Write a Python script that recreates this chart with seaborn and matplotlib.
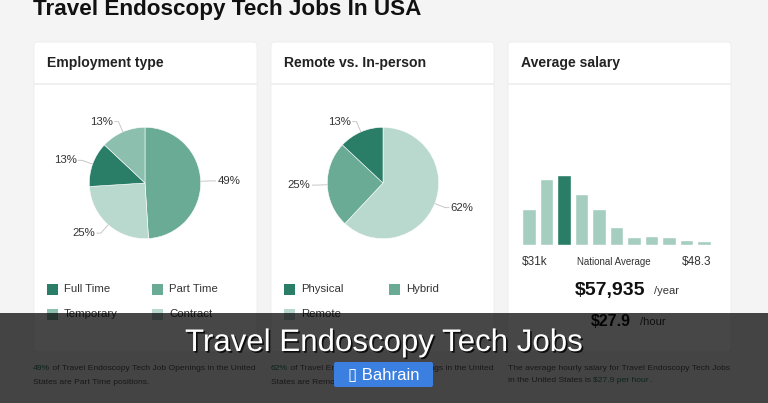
import matplotlib
matplotlib.use("Agg")
import matplotlib.pyplot as plt
import seaborn as sns
import numpy as np
from matplotlib.patches import Rectangle, FancyBboxPatch
import matplotlib.patheffects as pe

# ---------------- data ----------------
title = "Travel Endoscopy Tech Jobs In USA"
emp_labels = ["Full Time", "Part Time", "Temporary", "Contract"]
emp_values = [13, 49, 13, 25]
emp_pie_order = ["Part Time", "Contract", "Full Time", "Temporary"]

loc_labels = ["Physical", "Hybrid", "Remote"]
loc_values = [13, 25, 62]
loc_pie_order = ["Remote", "Hybrid", "Physical"]

salary_bins = ["b1", "b2", "b3", "b4", "b5", "b6", "b7", "b8", "b9", "b10", "b11"]
salary_counts = [36, 66, 70, 51, 36, 18, 8, 9, 8, 5, 4]
highlight_bin = "b3"
salary_low = "$31k"
salary_high = "$48.3"
salary_year = "$57,935"
salary_hour = "$27.9"

# ---------------- style ----------------
sns.set_theme(style="white")
plt.rcParams["font.family"] = ["Liberation Sans", "DejaVu Sans"]

W, H = 768, 403
fig = plt.figure(figsize=(W / 100, H / 100), dpi=100)
fig.patch.set_facecolor("#f4f4f4")

DARK = "#2a7d67"
MED = "#6aab96"
TEMP = "#8cbfae"
LIGHT = "#b9d9cf"
BARC = "#a5cec0"
TXT = "#222222"

emp_colors = {"Full Time": DARK, "Part Time": MED, "Temporary": TEMP, "Contract": LIGHT}
loc_colors = {"Physical": DARK, "Hybrid": MED, "Remote": LIGHT}


def px_axes(left, top, w, h, z=1):
    return fig.add_axes([left / W, 1 - (top + h) / H, w / W, h / H], zorder=z)


# background axes in pixel coordinates
bg = px_axes(0, 0, W, H, z=0)
bg.set_xlim(0, W)
bg.set_ylim(H, 0)
bg.axis("off")

bg.text(33, 15.5, title, fontsize=16.2, weight="bold", color="#111111", va="baseline")

cards = [(34, "Employment type"), (271, "Remote vs. In-person"), (508, "Average salary")]
for x0, head in cards:
    bg.add_patch(FancyBboxPatch((x0, 42), 223, 310, boxstyle="round,pad=0,rounding_size=3",
                                facecolor="white", edgecolor="#ececec", lw=0.6))
    bg.plot([x0, x0 + 223], [84, 84], color="#eeeeee", lw=1.2)
    bg.text(x0 + 13, 63, head, fontsize=10.1, weight="bold", color=TXT, va="center")


def draw_pie(cx, cy, r, order, labels, values, colors):
    ax = px_axes(cx - 100, cy - 100, 200, 200, z=2)
    vals = [values[labels.index(k)] for k in order]
    cols = [colors[k] for k in order]
    wedges, _ = ax.pie(vals, colors=cols, startangle=90, counterclock=False,
                       wedgeprops=dict(edgecolor="white", linewidth=0.4))
    lim = 100 / r
    ax.set_xlim(-lim, lim)
    ax.set_ylim(-lim, lim)
    ax.set_aspect("equal")
    ax.axis("off")
    for w, v in zip(wedges, vals):
        th = np.deg2rad((w.theta1 + w.theta2) / 2)
        c, s = np.cos(th), np.sin(th)
        side = 1 if c >= 0 else -1
        x1, y1 = 1.0 * c, 1.0 * s
        x2, y2 = 1.2 * c, 1.2 * s
        x3 = x2 + side * 0.07
        ax.plot([x1, x2, x3], [y1, y2, y2], color="#c8c8c8", lw=0.7, clip_on=False)
        ax.text(x3 + side * 0.03, y2, f"{v}%", fontsize=8.2, color="#333333",
                ha="left" if side > 0 else "right", va="center", clip_on=False)
    return ax


draw_pie(145, 183, 55.7, emp_pie_order, emp_labels, emp_values, emp_colors)
draw_pie(383, 183, 55.7, loc_pie_order, loc_labels, loc_values, loc_colors)


def legend(items, colors, xs, ys):
    for i, lab in enumerate(items):
        x = xs[i % 2]
        y = ys[i // 2]
        bg.add_patch(Rectangle((x, y - 5.5), 11, 11, facecolor=colors[lab], edgecolor="none"))
        bg.text(x + 17, y, lab, fontsize=8.2, color="#333333", va="center")


legend(emp_labels, emp_colors, [47, 152], [289, 314])
legend(loc_labels, loc_colors, [284, 389], [289, 314])

# salary histogram
bax = px_axes(522, 175, 189, 70, z=2)
pal = {b: (DARK if b == highlight_bin else BARC) for b in salary_bins}
sns.barplot(x=salary_bins, y=salary_counts, hue=salary_bins, palette=pal, legend=False,
            width=0.78, saturation=1, ax=bax)
bax.set_xlim(-0.39, len(salary_bins) - 0.61)
bax.set_ylim(0, 70)
bax.axis("off")

bg.text(522, 262, salary_low, fontsize=8.5, color="#333333", va="center", ha="left")
bg.text(614, 262, "National Average", fontsize=7, color="#333333", va="center", ha="center")
bg.text(711, 262, salary_high, fontsize=8.5, color="#333333", va="center", ha="right")
bg.text(645, 291, salary_year, fontsize=14, weight="bold", color="#111111", va="center", ha="right")
bg.text(654, 291, "/year", fontsize=8, color="#333333", va="center", ha="left")
bg.text(631, 322, salary_hour, fontsize=11.5, weight="bold", color="#111111", va="center", ha="right")
bg.text(640, 322, "/hour", fontsize=8, color="#333333", va="center", ha="left")

renderer = fig.canvas.get_renderer()


def rich(x, y, parts, fs=6.1):
    cur = x
    inv = bg.transData.inverted()
    for txt, col in parts:
        t = bg.text(cur, y, txt, fontsize=fs, color=col, va="center", ha="left")
        bb = t.get_window_extent(renderer)
        cur = inv.transform((bb.x1, bb.y0))[0]


G = "#555555"
rich(33, 369, [(f"{emp_values[1]}%", DARK), (" of Travel Endoscopy Tech Job Openings in the United", G)])
rich(33, 382, [("States are Part Time positions.", G)])
rich(271, 369, [(f"{loc_values[2]}%", DARK), (" of Travel Endoscopy Tech Job Openings in the United", G)])
rich(271, 382, [("States are Remote positions.", G)])
rich(508, 369, [("The average hourly salary for Travel Endoscopy Tech Jobs", G)])
rich(508, 381, [("in the United States is ", G), (f"{salary_hour} per hour", DARK), (".", G)])

# overlay
ov = px_axes(0, 0, W, H, z=10)
ov.set_xlim(0, W)
ov.set_ylim(H, 0)
ov.axis("off")
ov.patch.set_alpha(0)
ov.add_patch(Rectangle((0, 313), W, 90, facecolor="black", alpha=0.72, edgecolor="none"))
ov.text(384, 343, "Travel Endoscopy Tech Jobs", fontsize=22.5, color="white", ha="center", va="center",
        path_effects=[pe.withSimplePatchShadow(offset=(1.2, -1.2), shadow_rgbFace="black", alpha=0.8)])
ov.add_patch(FancyBboxPatch((334, 362), 99, 25, boxstyle="round,pad=0,rounding_size=2",
                            facecolor="#3b7fe0", edgecolor="none"))
ov.text(383.5, 375, "\u25af Bahrain", fontsize=12, color="white", ha="center", va="center",
        family=["Liberation Sans", "DejaVu Sans"])

fig.savefig("out.png", dpi=100, facecolor=fig.get_facecolor())
